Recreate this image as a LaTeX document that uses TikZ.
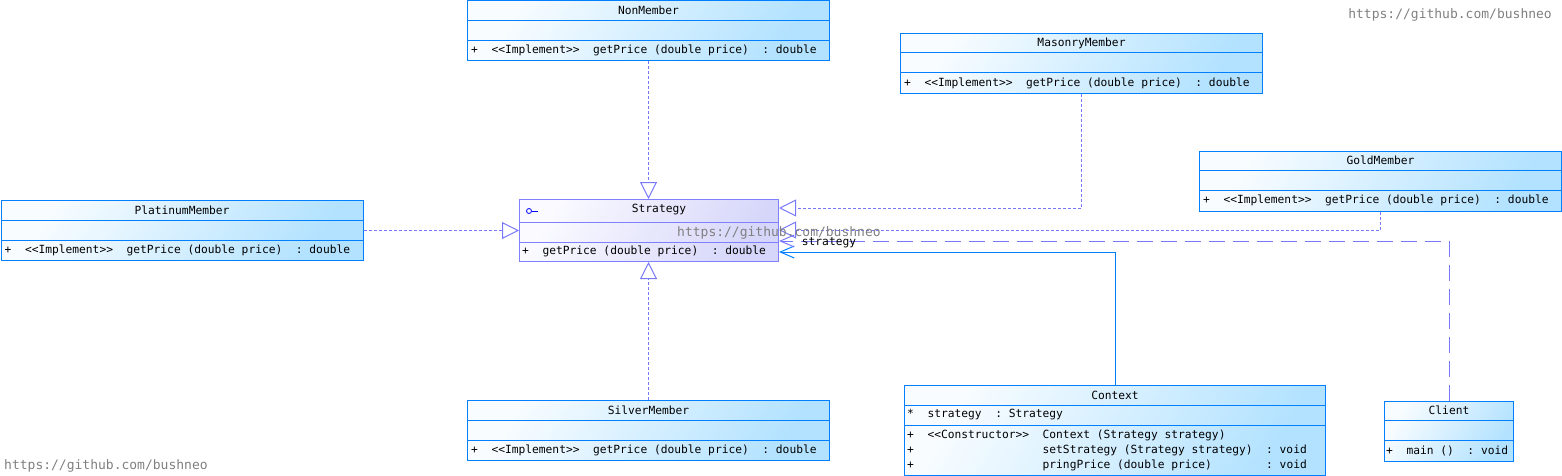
\documentclass[tikz,border=0pt]{standalone}
\usepackage{fontspec}
\setmonofont{DejaVu Sans Mono}
\usepackage{tikz}
\usetikzlibrary{arrows.meta,calc,positioning}
\definecolor{umlblue}{RGB}{0,128,255}
\definecolor{umlviolet}{RGB}{128,128,255}
\definecolor{linkviolet}{RGB}{120,120,250}
\definecolor{boxlight}{RGB}{248,252,255}
\definecolor{boxdark}{RGB}{178,226,255}
\definecolor{ifacelight}{RGB}{250,250,255}
\definecolor{ifacedark}{RGB}{214,214,250}
\tikzstyle{classbox}=[draw=umlblue,line width=1pt,top color=boxlight,bottom color=boxdark,shading angle=60,inner sep=0pt]
\tikzstyle{ifacebox}=[draw=umlviolet,line width=1pt,top color=ifacelight,bottom color=ifacedark,shading angle=60,inner sep=0pt]
\tikzstyle{classtext}=[font=\fontsize{11.25}{13}\selectfont\ttfamily,inner sep=0pt]
\tikzstyle{realize}=[draw=linkviolet,line width=1pt,dash pattern=on 3pt off 2pt,-{Triangle[open,length=17pt,width=17pt]}]
\tikzstyle{depend}=[draw=linkviolet,line width=1pt,dash pattern=on 16pt off 8pt,-{Straight Barb[length=14pt,width=12pt]}]
\tikzstyle{assoc}=[draw=umlblue,line width=1pt,-{Straight Barb[length=14pt,width=12pt]}]
\tikzstyle{watermark}=[font=\fontsize{13}{15}\selectfont\ttfamily,text=gray,inner sep=0pt]

\begin{document}
\begin{tikzpicture}[x=1pt,y=-1pt]
    \useasboundingbox (0,0) rectangle (1562,476);

    % the interface
    \node[ifacebox,minimum width=259pt,minimum height=62pt,anchor=north west] (Strategy) at (519,199) {};
    \draw[umlviolet,line width=1pt] ($(Strategy.north west)+(0,23)$) -- ($(Strategy.north east)+(0,23)$);
    \draw[umlviolet,line width=1pt] ($(Strategy.north west)+(0,43)$) -- ($(Strategy.north east)+(0,43)$);
    \node[classtext] (Strategy-title) at (659,210) {Strategy};
    \node[circle,draw=blue,line width=0.8pt,minimum size=5pt,inner sep=0pt] (Strategy-icon) at (529,211) {};
    \draw[blue,line width=0.8pt] (Strategy-icon.east) -- ++(6,0);
    \node[classtext,anchor=west] (Strategy-ops) at (522,251) {+~~getPrice~(double~price)~~:~double};

    % the concrete strategies
    \foreach \name/\x/\y in {NonMember/467/0.5, MasonryMember/900/33, GoldMember/1199/150.5, PlatinumMember/0.5/200, SilverMember/467/400} {
        \node[classbox,minimum width=362pt,minimum height=60pt,anchor=north west] (\name) at (\x,\y) {};
        \draw[umlblue,line width=1pt] ($(\name.north west)+(0,20)$) -- ($(\name.north east)+(0,20)$);
        \draw[umlblue,line width=1pt] ($(\name.north west)+(0,40)$) -- ($(\name.north east)+(0,40)$);
        \node[classtext] (\name-title) at ($(\name.north)+(0,10)$) {\name};
        \node[classtext,anchor=west] (\name-ops) at ($(\name.north west)+(4,50)$) {+~~<{}<Implement>{}>~~getPrice~(double~price)~~:~double};
    }

    % context and client
    \node[classbox,minimum width=421pt,minimum height=90pt,anchor=north west] (Context) at (904,385) {};
    \draw[umlblue,line width=1pt] ($(Context.north west)+(0,20)$) -- ($(Context.north east)+(0,20)$);
    \draw[umlblue,line width=1pt] ($(Context.north west)+(0,40)$) -- ($(Context.north east)+(0,40)$);
    \node[classtext] (Context-title) at ($(Context.north)+(0,10)$) {Context};
    \node[classtext,anchor=west] (Context-attr) at (907,415) {*~~strategy~~:~Strategy};
    \node[classtext,anchor=west] (Context-op1) at (907,435) {+~~<{}<Constructor>{}>~~Context~(Strategy~strategy)};
    \node[classtext,anchor=west] (Context-op2) at (907,450) {+~~~~~~~~~~~~~~~~~~~setStrategy~(Strategy~strategy)~~:~void};
    \node[classtext,anchor=west] (Context-op3) at (907,465) {+~~~~~~~~~~~~~~~~~~~pringPrice~(double~price)~~~~~~~~:~void};

    \node[classbox,minimum width=129pt,minimum height=60pt,anchor=north west] (Client) at (1384,400.5) {};
    \draw[umlblue,line width=1pt] ($(Client.north west)+(0,20)$) -- ($(Client.north east)+(0,20)$);
    \draw[umlblue,line width=1pt] ($(Client.north west)+(0,40)$) -- ($(Client.north east)+(0,40)$);
    \node[classtext] (Client-title) at ($(Client.north)+(0,10)$) {Client};
    \node[classtext,anchor=west] (Client-ops) at ($(Client.north west)+(2,50)$) {+~~main~()~~:~void};

    % realizations
    \path[realize] (NonMember.south) -- (NonMember.south |- Strategy.north);
    \path[realize] (SilverMember.north) -- (SilverMember.north |- Strategy.south);
    \path[realize] (PlatinumMember.east) -- (Strategy.west);
    \path[realize] (MasonryMember.south) |- ($(Strategy.north east)+(0,9)$);
    \path[realize] (GoldMember.south) |- ($(Strategy.north east)+(0,31)$);

    % associations
    \path[assoc] (Context.north) |- ($(Strategy.north east)+(0,53)$);
    \path[depend] (Client.north) |- ($(Strategy.north east)+(0,42)$);
    \node[classtext] (strategy-role) at (829,243) {strategy};

    % watermarks
    \node[watermark,anchor=east] (mark-top) at (1552,15) {https://github.com/bushneo};
    \node[watermark,anchor=west] (mark-mid) at (677,233) {https://github.com/bushneo};
    \node[watermark,anchor=west] (mark-bottom) at (4,466) {https://github.com/bushneo};
\end{tikzpicture}
\end{document}
